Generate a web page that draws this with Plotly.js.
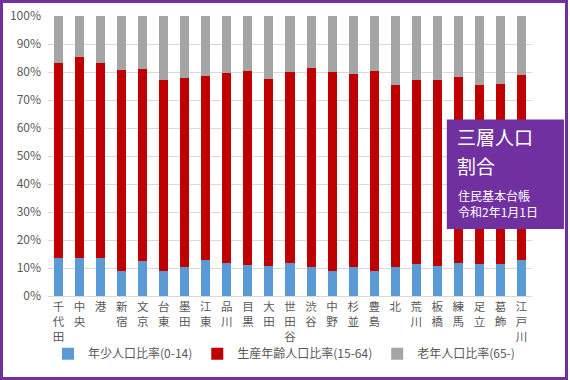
<!DOCTYPE html>
<html>
<head>
<meta charset="utf-8">
<script src="https://cdn.plot.ly/plotly-3.0.1.min.js"></script>
<style>
html,body{margin:0;padding:0;background:#fff;}
#chart{width:568px;height:380px;box-sizing:border-box;border:3px solid #7030A0;}
</style>
</head>
<body>
<div id="chart"></div>
<script>
const wards = ["千代田","中央","港","新宿","文京","台東","墨田","江東","品川","目黒","大田","世田谷","渋谷","中野","杉並","豊島","北","荒川","板橋","練馬","足立","葛飾","江戸川"];
const young   = [13.6,13.6,13.6,8.9,12.5,8.9,10.4,12.9,11.8,11.1,10.7,11.8,10.4,8.9,10.4,8.9,10.4,11.4,10.7,11.8,11.4,11.4,12.9];
const working = [69.6,71.8,69.6,71.8,68.6,68.2,67.5,65.7,67.8,69.3,66.8,68.2,71.0,71.1,68.9,71.5,65.0,65.7,66.4,66.4,64.0,64.3,66.0];
const elderly = [16.8,14.6,16.8,19.3,18.9,22.9,22.1,21.4,20.4,19.6,22.5,20.0,18.6,20.0,20.7,19.6,24.6,22.9,22.9,21.8,24.6,24.3,21.1];
const seriesNames = ["年少人口比率(0-14)","生産年齢人口比率(15-64)","老年人口比率(65-)"];
const yTicks = [0,10,20,30,40,50,60,70,80,90,100];
const boxTitle1 = "三層人口";
const boxTitle2 = "割合";
const boxNote = "住民基本台帳<br>令和2年1月1日";

const colors = ["#5B9BD5","#C00000","#A5A5A5"];
const vals = [young, working, elderly];
const traces = vals.map((v,i)=>({
  type:"bar", x:wards, y:v, name:seriesNames[i],
  marker:{color:colors[i]}, hoverinfo:"skip"
}));

const font = "'Noto Sans CJK JP', 'Noto Sans', sans-serif";
const annotations = [
  {xref:"paper", yref:"paper", x:0.843, y:0.569, xanchor:"left", yanchor:"middle",
   text:boxTitle1, showarrow:false, align:"left", borderpad:0,
   font:{family:font,size:19,color:"#ffffff"}},
  {xref:"paper", yref:"paper", x:0.843, y:0.466, xanchor:"left", yanchor:"middle",
   text:boxTitle2, showarrow:false, align:"left", borderpad:0,
   font:{family:font,size:19,color:"#ffffff"}},
  {xref:"paper", yref:"paper", x:0.843, y:0.332, xanchor:"left", yanchor:"middle",
   text:boxNote, showarrow:false, align:"left",
   font:{family:font,size:12,color:"#ffffff"}}
];

const layout = {
  width:562, height:374,
  margin:{l:45,r:33,t:13,b:81,pad:0},
  paper_bgcolor:"#ffffff", plot_bgcolor:"#ffffff",
  barmode:"stack", bargap:0.57,
  font:{family:font,color:"#595959"},
  showlegend:true,
  legend:{orientation:"h", xref:"container", yref:"container", x:0.5, xanchor:"center",
    y:0.062, yanchor:"middle", itemgap:0, bgcolor:"rgba(0,0,0,0)", borderwidth:0,
    font:{family:font,size:12,color:"#595959"}, traceorder:"normal", itemwidth:30},
  xaxis:{type:"category", tickvals:wards, ticktext:wards.map(w=>Array.from(w).join("<br>")),
    ticks:"", showgrid:false, showline:true,
    linecolor:"#D9D9D9", linewidth:1, zeroline:false, fixedrange:true,
    tickfont:{family:font,size:11.5,color:"#595959"}},
  yaxis:{range:[0,100], tickvals:yTicks, ticktext:yTicks.map(v=>v+"%"),
    showgrid:true, gridcolor:"#D9D9D9", gridwidth:1, zeroline:false, showline:false,
    tickfont:{family:font,size:12,color:"#595959"}, ticks:"", ticklabelstandoff:6, fixedrange:true},
  shapes:[{type:"rect", xref:"paper", yref:"paper", x0:0.824, x1:1.066, y0:0.239, y1:0.630,
    fillcolor:"#7030A0", line:{width:0}, layer:"above"}],
  annotations:annotations
};
Plotly.newPlot("chart", traces, layout, {displayModeBar:false, staticPlot:true});
</script>
</body>
</html>
